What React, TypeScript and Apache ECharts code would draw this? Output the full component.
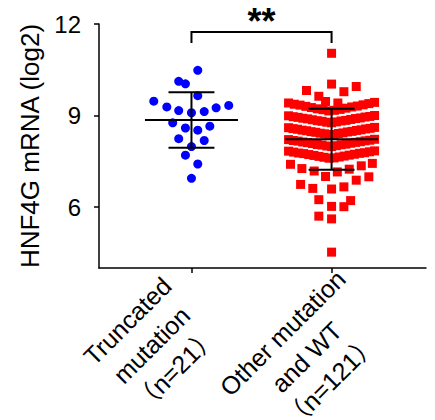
import React, { useEffect, useRef } from "react";
import * as echarts from "echarts";

// ---- data ----
const categoryLabels = [
  "Truncated\nmutation\n（n=21）",
  "Other mutation\nand WT\n（n=121）",
];
const groupPositions = [1, 2];
const yTicks = [6, 9, 12];
const yAxisTitle = "HNF4G mRNA (log2)";
const significanceText = "**";

const blueValues = [
  10.48, 10.12, 10.04, 9.65, 9.47, 9.28, 9.16, 9.09, 9.13, 9.25, 9.33, 8.76,
  8.59, 8.52, 8.65, 8.24, 8.18, 7.98, 7.7, 7.41, 6.94,
];
const blueJitter = [
  0.045, -0.091, -0.043, 0.045, -0.269, -0.176, -0.091, 0, 0.091, 0.176,
  0.266, -0.134, -0.043, 0.045, 0.131, -0.091, 0.091, 0, -0.043, 0.045, 0,
];

const redValues = [
  11.04, 10.03, 9.95, 9.82, 9.78, 9.63, 9.46, 9.41,
  9.15, 9.17, 9.19, 9.2, 9.22, 9.24, 9.26, 9.28, 9.3, 9.31, 9.34, 9.35, 9.37, 9.39, 9.41, 9.43,
  8.76, 8.78, 8.79, 8.81, 8.82, 8.83, 8.84, 8.86, 8.87, 8.89, 8.9, 8.91, 8.92, 8.94, 8.95, 8.96, 8.97, 8.99, 9.0,
  8.37, 8.38, 8.4, 8.41, 8.42, 8.43, 8.45, 8.46, 8.47, 8.48, 8.5, 8.51, 8.52, 8.53, 8.55, 8.56, 8.57, 8.58, 8.6, 8.61,
  7.98, 8.0, 8.01, 8.03, 8.04, 8.05, 8.06, 8.08, 8.09, 8.11, 8.12, 8.13, 8.14, 8.16, 8.17, 8.18, 8.19, 8.21, 8.22,
  7.6, 7.61, 7.63, 7.64, 7.66, 7.67, 7.69, 7.7, 7.72, 7.73, 7.75, 7.76, 7.77, 7.78, 7.8, 7.81, 7.83, 7.84,
  7.4, 7.26, 7.18, 7.0, 7.15, 7.24, 7.35, 7.43,
  6.74, 6.61, 6.59, 6.66, 6.88, 6.99,
  6.24, 6.21, 6.02, 6.01, 5.7, 5.61, 4.52,
];
const redJitter = [
  0, 0, 0.176, -0.179, 0.088, -0.091, -0.043, 0.045,
  -0.02, 0.02, -0.061, 0.061, -0.102, 0.102, -0.144, 0.144, -0.184, 0.184, -0.225, 0.225, -0.266, 0.266, -0.307, 0.307,
  0, -0.034, 0.034, -0.068, 0.068, -0.102, 0.102, -0.137, 0.137, -0.171, 0.171, -0.205, 0.205, -0.239, 0.239, -0.273, 0.273, -0.307, 0.307,
  -0.016, 0.016, -0.049, 0.049, -0.081, 0.081, -0.113, 0.113, -0.146, 0.146, -0.178, 0.178, -0.21, 0.21, -0.243, 0.243, -0.275, 0.275, -0.307, 0.307,
  0, -0.034, 0.034, -0.068, 0.068, -0.102, 0.102, -0.137, 0.137, -0.171, 0.171, -0.205, 0.205, -0.239, 0.239, -0.273, 0.273, -0.307, 0.307,
  -0.018, 0.018, -0.054, 0.054, -0.09, 0.09, -0.126, 0.126, -0.163, 0.163, -0.199, 0.199, -0.235, 0.235, -0.271, 0.271, -0.307, 0.307,
  -0.293, -0.212, -0.124, -0.043, 0.041, 0.126, 0.212, 0.291,
  -0.221, -0.134, 0, 0.088, 0.176, 0.266,
  -0.091, 0.136, 0, 0.088, -0.091, 0, 0,
];

const groupMean = [8.85, 8.22];
const groupSD = [0.91, 1.0];

// significance bracket: [x1, x2, barValue, endValue, textValue]
const bracket = [1, 2, 11.74, 11.38, 12.08];

// ---- styling constants ----
const FONT = "'Liberation Sans', Arial, 'Noto Sans CJK SC', sans-serif";
const MEAN_HALF = 0.332;
const SD_HALF = 0.164;
const X_MIN = 0.34;
const X_MAX = 2.674;
const Y_MIN = 4;
const Y_MAX = 12;
// centre of each rotated category label, in px from its tick on the x axis
const labelOffset = [
  [-40, 77],
  [-25, 89],
];

export default function App() {
  const ref = useRef<HTMLDivElement>(null);

  useEffect(() => {
    if (!ref.current) return;
    const chart = echarts.init(ref.current, null, { renderer: "svg" });

    const black = "#000";

    const option: any = {
      animation: false,
      backgroundColor: "#fff",
      grid: {
        left: 99,
        right: 9,
        top: 24,
        bottom: 152,
        containLabel: false,
        outerBoundsMode: "none",
      },
      xAxis: {
        type: "value",
        min: X_MIN,
        max: X_MAX,
        splitLine: { show: false },
        axisLine: { show: true, lineStyle: { color: black, width: 1.5 } },
        axisTick: {
          show: true,
          length: 5,
          customValues: groupPositions,
          lineStyle: { color: black, width: 1.5 },
        },
        axisLabel: { show: false },
      },
      yAxis: {
        type: "value",
        min: Y_MIN,
        max: Y_MAX,
        splitLine: { show: false },
        axisLine: { show: true, lineStyle: { color: black, width: 1.5 } },
        axisTick: {
          show: true,
          length: 5,
          customValues: yTicks,
          lineStyle: { color: black, width: 1.5 },
        },
        axisLabel: {
          customValues: yTicks,
          fontSize: 24,
          color: black,
          margin: 18,
          fontFamily: FONT,
        },
        name: yAxisTitle,
        nameLocation: "middle",
        nameGap: 56,
        nameTextStyle: { fontSize: 26, color: black, fontFamily: FONT },
      },
      series: [
        {
          type: "scatter",
          symbol: "circle",
          symbolSize: 9,
          itemStyle: { color: "#0000ff", opacity: 1 },
          data: blueValues.map((v, i) => [groupPositions[0] + blueJitter[i], v]),
          z: 2,
        },
        {
          type: "scatter",
          symbol: "rect",
          symbolSize: 9,
          itemStyle: { color: "#ff0000", opacity: 1 },
          data: redValues.map((v, i) => [groupPositions[1] + redJitter[i], v]),
          z: 2,
        },
        {
          type: "custom",
          z: 5,
          clip: false,
          data: groupPositions.map((x, i) => [x, groupMean[i], groupSD[i]]),
          encode: { x: 0, y: 1 },
          renderItem: (_params: any, api: any) => {
            const x = api.value(0);
            const m = api.value(1);
            const sd = api.value(2);
            const ml = api.coord([x - MEAN_HALF, m]);
            const mr = api.coord([x + MEAN_HALF, m]);
            const ul = api.coord([x - SD_HALF, m + sd]);
            const ur = api.coord([x + SD_HALF, m + sd]);
            const ll = api.coord([x - SD_HALF, m - sd]);
            const lr = api.coord([x + SD_HALF, m - sd]);
            const top = api.coord([x, m + sd]);
            const bot = api.coord([x, m - sd]);
            const st = { stroke: black, lineWidth: 2 };
            return {
              type: "group",
              children: [
                { type: "line", shape: { x1: ml[0], y1: ml[1], x2: mr[0], y2: mr[1] }, style: st },
                { type: "line", shape: { x1: ul[0], y1: ul[1], x2: ur[0], y2: ur[1] }, style: st },
                { type: "line", shape: { x1: ll[0], y1: ll[1], x2: lr[0], y2: lr[1] }, style: st },
                { type: "line", shape: { x1: top[0], y1: top[1], x2: bot[0], y2: bot[1] }, style: st },
              ],
            };
          },
        },
        {
          // rotated, centred category labels under each tick
          type: "custom",
          z: 6,
          clip: false,
          silent: true,
          data: groupPositions.map((x, i) => [x, Y_MIN, i]),
          encode: { x: 0, y: 1 },
          renderItem: (_params: any, api: any) => {
            const x = api.value(0);
            const i = api.value(2);
            const p = api.coord([x, api.value(1)]);
            return {
              type: "text",
              x: p[0] + labelOffset[i][0],
              y: p[1] + labelOffset[i][1],
              rotation: Math.PI / 4,
              style: {
                text: categoryLabels[i],
                fill: black,
                fontSize: 25,
                fontFamily: FONT,
                lineHeight: 34,
                align: "center",
                verticalAlign: "middle",
              },
            };
          },
        },
        {
          type: "custom",
          z: 6,
          clip: false,
          data: [bracket],
          encode: { x: [0, 1], y: [2, 3, 4] },
          renderItem: (_params: any, api: any) => {
            const x1 = api.value(0);
            const x2 = api.value(1);
            const yb = api.value(2);
            const ye = api.value(3);
            const yt = api.value(4);
            const p1 = api.coord([x1, ye]);
            const p2 = api.coord([x1, yb]);
            const p3 = api.coord([x2, yb]);
            const p4 = api.coord([x2, ye]);
            const pt = api.coord([(x1 + x2) / 2, yt]);
            return {
              type: "group",
              children: [
                {
                  type: "polyline",
                  shape: { points: [p1, p2, p3, p4] },
                  style: { stroke: black, lineWidth: 2, fill: "none" },
                },
                {
                  type: "text",
                  x: pt[0],
                  y: pt[1],
                  style: {
                    text: significanceText,
                    fill: black,
                    font: `bold 36px ${FONT}`,
                    align: "center",
                    verticalAlign: "middle",
                  },
                },
              ],
            };
          },
        },
      ],
    };

    chart.setOption(option);
    return () => chart.dispose();
  }, []);

  return (
    <div
      ref={ref}
      style={{ position: "absolute", left: 0, top: 0, width: 435, height: 420 }}
    />
  );
}
